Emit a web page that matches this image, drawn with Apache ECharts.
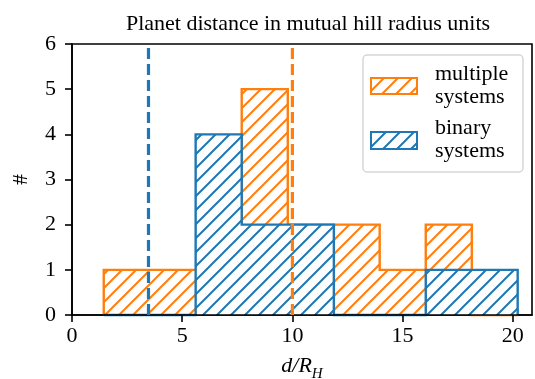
<!DOCTYPE html>
<html><head><meta charset="utf-8">
<script src="https://cdn.jsdelivr.net/npm/echarts@6/dist/echarts.min.js"></script>
<style>html,body{margin:0;padding:0;background:#fff}#c{width:535px;height:379px}</style>
</head><body><div id="c"></div>
<script>
const binEdges = [1.44, 3.53, 5.61, 7.70, 9.79, 11.88, 13.96, 16.05, 18.14, 20.22];
const multipleCounts = [1, 1, 1, 5, 2, 2, 1, 2, 0];
const binaryCounts = [0, 0, 4, 2, 2, 0, 0, 1, 1];
const binaryMedian = 3.47;
const multipleMedian = 10.0;
const xTicks = [0, 5, 10, 15, 20];
const yTicks = [0, 1, 2, 3, 4, 5, 6];
const titleText = 'Planet distance in mutual hill radius units';
const legendLabels = ['multiple\nsystems', 'binary\nsystems'];

const ORANGE = '#ff7f0e', BLUE = '#1f77b4';
const FONT = '"Liberation Serif", "DejaVu Serif", serif';
const FS = 22;

function hatch(color) {
  const s = 14;
  const c = document.createElement('canvas');
  c.width = s; c.height = s;
  const g = c.getContext('2d');
  g.strokeStyle = color; g.lineWidth = 2;
  g.beginPath();
  g.moveTo(-2, s + 2); g.lineTo(s + 2, -2);
  g.moveTo(-s / 2 - 2, s / 2 + 2); g.lineTo(s / 2 + 2, -s / 2 - 2);
  g.moveTo(s / 2 - 2, s * 1.5 + 2); g.lineTo(s * 1.5 + 2, s / 2 - 2);
  g.stroke();
  return c;
}

function stepSeries(name, counts, color, z) {
  return {
    type: 'custom', name: name, z: z, clip: false,
    data: [[binEdges[0], 0]],
    renderItem: function (params, api) {
      const pts = [api.coord([binEdges[0], 0])];
      for (let i = 0; i < counts.length; i++) {
        pts.push(api.coord([binEdges[i], counts[i]]));
        pts.push(api.coord([binEdges[i + 1], counts[i]]));
      }
      pts.push(api.coord([binEdges[counts.length], 0]));
      return {
        type: 'group', children: [
          { type: 'polygon', shape: { points: pts }, style: { fill: '#fff' } },
          { type: 'polygon', shape: { points: pts }, style: { fill: { image: hatch(color), repeat: 'repeat' } } },
          { type: 'polyline', shape: { points: pts }, style: { stroke: color, lineWidth: 2.4, fill: null } }
        ]
      };
    }
  };
}

function vline(x, color) {
  return {
    type: 'line', data: [[x, yTicks[0]], [x, yTicks[yTicks.length - 1]]],
    symbol: 'none', z: 6, silent: true,
    lineStyle: { color: color, width: 3.2, type: [11, 5] }
  };
}

const chart = echarts.init(document.getElementById('c'), null, { renderer: 'canvas' });
chart.setOption({
  animation: false,
  backgroundColor: '#fff',
  title: {
    text: titleText, left: 303, top: 8, textAlign: 'center',
    textStyle: { fontFamily: FONT, fontSize: FS, fontWeight: 'normal', color: '#000' }
  },
  grid: { left: 72, right: 3, top: 44, bottom: 64, outerBoundsMode: 'none', containLabel: false, show: true, borderColor: '#000', borderWidth: 1.6, backgroundColor: 'transparent' },
  xAxis: {
    type: 'value', min: 0, max: 20.87, z: 5,
    name: '{i|d/R}{s|H}', nameLocation: 'middle', nameGap: 40,
    nameTextStyle: {
      rich: {
        i: { fontFamily: FONT, fontSize: FS, fontStyle: 'italic', color: '#000', verticalAlign: 'top', padding: [0, 0, 5, 0] },
        s: { fontFamily: FONT, fontSize: 15, fontStyle: 'italic', color: '#000', verticalAlign: 'bottom' }
      }
    },
    splitLine: { show: false },
    axisLine: { onZero: false, lineStyle: { color: '#000', width: 1.6 } },
    axisTick: { length: 7, lineStyle: { color: '#000', width: 1.6 }, customValues: xTicks },
    axisLabel: { customValues: xTicks, fontFamily: FONT, fontSize: FS, color: '#000', margin: 10 }
  },
  yAxis: {
    type: 'value', min: 0, max: 6, interval: 1, z: 5,
    name: '#', nameLocation: 'middle', nameGap: 40,
    nameTextStyle: { fontFamily: FONT, fontSize: FS, color: '#000' },
    splitLine: { show: false },
    axisLine: { show: true, onZero: false, lineStyle: { color: '#000', width: 1.6 } },
    axisTick: { show: true, length: 7, lineStyle: { color: '#000', width: 1.6 } },
    axisLabel: { fontFamily: FONT, fontSize: FS, color: '#000', margin: 16 }
  },
  series: [
    stepSeries('multiple systems', multipleCounts, ORANGE, 2),
    stepSeries('binary systems', binaryCounts, BLUE, 3),
    vline(binaryMedian, BLUE),
    vline(multipleMedian, ORANGE)
  ],
  graphic: [
    { type: 'rect', z: 20, shape: { x: 363, y: 55, width: 160, height: 117, r: 4 }, style: { fill: 'rgba(255,255,255,0.8)', stroke: '#d6d6d6', lineWidth: 1.5 } },
    { type: 'rect', z: 21, shape: { x: 371, y: 78, width: 46, height: 16 }, style: { fill: { image: hatch(ORANGE), repeat: 'repeat' }, stroke: ORANGE, lineWidth: 2 } },
    { type: 'rect', z: 21, shape: { x: 371, y: 132, width: 46, height: 17 }, style: { fill: { image: hatch(BLUE), repeat: 'repeat' }, stroke: BLUE, lineWidth: 2 } },
    { type: 'text', z: 21, x: 435, y: 86, style: { text: legendLabels[0], fontFamily: FONT, fontSize: FS, fill: '#000', verticalAlign: 'middle', lineHeight: 23 } },
    { type: 'text', z: 21, x: 435, y: 140, style: { text: legendLabels[1], fontFamily: FONT, fontSize: FS, fill: '#000', verticalAlign: 'middle', lineHeight: 23 } }
  ]
});
</script></body></html>
